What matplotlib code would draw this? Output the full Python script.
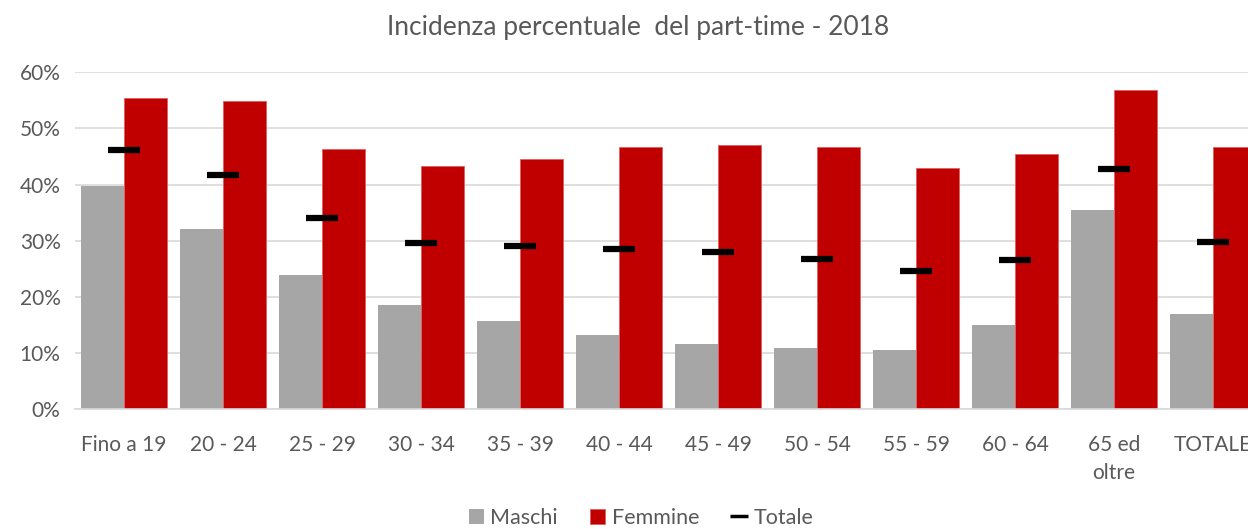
import numpy as np
import matplotlib
matplotlib.use("Agg")
import matplotlib.pyplot as plt
from matplotlib.ticker import PercentFormatter

categorie = ["Fino a 19", "20 - 24", "25 - 29", "30 - 34", "35 - 39", "40 - 44",
             "45 - 49", "50 - 54", "55 - 59", "60 - 64", "65 ed\noltre", "TOTALE"]
maschi = [39.7, 32.0, 23.8, 18.5, 15.7, 13.2, 11.6, 10.8, 10.5, 14.9, 35.5, 16.9]
femmine = [55.4, 54.8, 46.3, 43.3, 44.6, 46.6, 47.1, 46.6, 43.0, 45.5, 56.8, 46.6]
totale = [46.1, 41.7, 34.0, 29.6, 29.0, 28.5, 27.9, 26.8, 24.6, 26.5, 42.8, 29.8]

GRIGIO = "#A6A6A6"
ROSSO = "#C00000"
TESTO = "#595959"

plt.rcParams['font.family'] = ['Lato', 'DejaVu Sans']

fig = plt.figure(figsize=(12.48, 5.29), dpi=100)
# l'asse a destra esce dalla figura come nell'originale (TOTALE tagliato)
ax = fig.add_axes([74.5 / 1248, 1 - 409 / 529, 1188 / 1248, (409 - 72.3) / 529])

x = np.arange(len(categorie))
w = 0.435
ax.bar(x - w / 2, maschi, w, color=GRIGIO, label="Maschi", zorder=2)
ax.bar(x + w / 2, femmine, w, color=ROSSO, edgecolor="#E06060", linewidth=0.6,
       label="Femmine", zorder=2)
ax.plot(x, totale, linestyle="none", marker="_", markersize=22.5,
        markeredgewidth=4.5, color="black", label="Totale", zorder=3)

ax.set_xlim(-0.5, len(categorie) - 0.5)
ax.set_ylim(0, 60)
ax.set_yticks(np.arange(0, 61, 10))
ax.yaxis.set_major_formatter(PercentFormatter(decimals=0))
ax.grid(axis="y", color="#D9D9D9", linewidth=1.2, zorder=0)
ax.set_axisbelow(True)
for s in ["top", "right", "left"]:
    ax.spines[s].set_visible(False)
ax.spines["bottom"].set_color("#D9D9D9")
ax.spines["bottom"].set_linewidth(1.2)
ax.set_xticks(x)
ax.set_xticklabels(categorie, linespacing=1.45, va="top")
ax.tick_params(axis="both", length=0, labelsize=15, labelcolor=TESTO)
ax.tick_params(axis="x", pad=19)
ax.tick_params(axis="y", pad=10)

fig.text(638 / 1248, 1 - 28 / 529, "Incidenza percentuale  del part-time - 2018",
         ha="center", va="center", fontsize=19, color=TESTO)

h, l = ax.get_legend_handles_labels()
ordine = [1, 2, 0]
leg = fig.legend([h[i] for i in ordine], [l[i] for i in ordine], loc="center",
                 bbox_to_anchor=(641 / 1248, 1 - 518 / 529), ncol=3,
                 frameon=False, fontsize=15.5, labelcolor=TESTO, handlelength=0.7,
                 handleheight=0.7, handletextpad=0.3, columnspacing=1.5,
                 markerscale=0.55, borderpad=0)
leg.legend_handles[2].set_markeredgewidth(2.5)

fig.savefig("out.png", dpi=100)
